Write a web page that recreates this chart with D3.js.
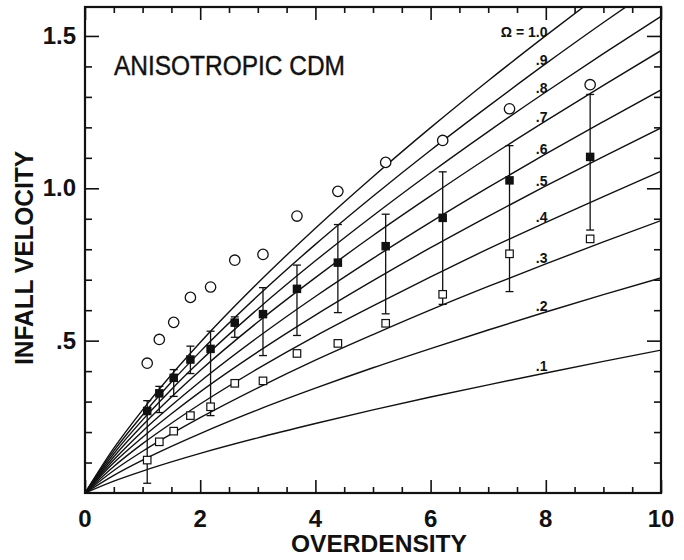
<!DOCTYPE html>
<html>
<head>
<meta charset="utf-8">
<script src="https://cdn.jsdelivr.net/npm/d3@7"></script>
<style>
  body { margin: 0; background: #fff; }
  svg { display: block; }
</style>
</head>
<body>
<svg id="chart" width="684" height="560"></svg>
<script>
// Model curves: infall velocity vs overdensity for a range of Omega
const omegas = [0.1, 0.2, 0.3, 0.4, 0.5, 0.6, 0.7, 0.8, 0.9, 1.0];
const omegaLabels = [".1", ".2", ".3", ".4", ".5", ".6", ".7", ".8", ".9", "\u03A9 = 1.0"];
const curveX = [0, 0.5, 1, 1.5, 2, 3, 4, 5, 6, 7, 8, 9, 10];
const curve01 = [0, 0.039, 0.072, 0.102, 0.130, 0.181, 0.228, 0.273, 0.315, 0.355, 0.394, 0.432, 0.469];
const curve02 = [0, 0.058, 0.108, 0.153, 0.195, 0.273, 0.344, 0.411, 0.474, 0.535, 0.594, 0.651, 0.706];
const curve03 = [0, 0.074, 0.137, 0.194, 0.247, 0.345, 0.436, 0.520, 0.601, 0.678, 0.752, 0.824, 0.894];
const curve04 = [0, 0.087, 0.162, 0.229, 0.292, 0.408, 0.515, 0.614, 0.709, 0.801, 0.888, 0.973, 1.056];
const curve05 = [0, 0.099, 0.183, 0.260, 0.332, 0.463, 0.584, 0.697, 0.805, 0.908, 1.008, 1.104, 1.198];
const curve06 = [0, 0.109, 0.203, 0.287, 0.366, 0.511, 0.645, 0.770, 0.889, 1.003, 1.113, 1.219, 1.323];
const curve07 = [0, 0.119, 0.222, 0.315, 0.402, 0.561, 0.707, 0.845, 0.975, 1.101, 1.221, 1.338, 1.452];
const curve08 = [0, 0.129, 0.240, 0.340, 0.433, 0.604, 0.762, 0.910, 1.051, 1.186, 1.316, 1.442, 1.564];
const curve09 = [0, 0.138, 0.256, 0.364, 0.464, 0.647, 0.816, 0.974, 1.125, 1.269, 1.409, 1.544, 1.675];
const curve10 = [0, 0.147, 0.273, 0.388, 0.494, 0.689, 0.869, 1.038, 1.199, 1.353, 1.501, 1.645, 1.785];
const curves = [curve01, curve02, curve03, curve04, curve05, curve06, curve07, curve08, curve09, curve10];

// Measured points at each overdensity
const obsX    = [1.08, 1.29, 1.54, 1.83, 2.18, 2.60, 3.09, 3.68, 4.39, 5.22, 6.21, 7.37, 8.77];
const circleV = [0.426, 0.504, 0.560, 0.642, 0.676, 0.764, 0.783, 0.909, 0.990, 1.085, 1.157, 1.261, 1.340];
const filledV = [0.269, 0.327, 0.378, 0.438, 0.473, 0.559, 0.587, 0.670, 0.756, 0.810, 0.903, 1.026, 1.103];
const errHi   = [0.303, 0.350, 0.405, 0.482, 0.531, 0.578, 0.674, 0.748, 0.881, 0.915, 1.054, 1.140, 1.308];
const errLo   = [0.032, 0.264, 0.317, 0.392, 0.254, 0.511, 0.451, 0.517, 0.592, 0.588, 0.619, 0.661, 0.863];
const openV   = [0.108, 0.168, 0.203, 0.254, 0.283, 0.360, 0.368, 0.458, 0.491, 0.557, 0.652, 0.785, 0.834];

// Axis ticks and labels
const xMajor = [0, 2, 4, 6, 8, 10];
const xMajorLabels = ["0", "2", "4", "6", "8", "10"];
const xMinor = d3.range(0.5, 10, 0.5).filter(v => Math.abs(v % 2) > 1e-6);
const yMajor = [0.5, 1.0, 1.5];
const yMajorLabels = [".5", "1.0", "1.5"];
const yMinor = d3.range(1, 16).map(i => i / 10).filter(v => yMajor.every(m => Math.abs(m - v) > 1e-6));

const svg = d3.select("#chart");
const FONT = "'Liberation Sans', Arial, Helvetica, sans-serif";
const pLeft = 85, pRight = 661, pTop = 7, pBottom = 493;

const x = d3.scaleLinear().domain([0, 10]).range([pLeft, pRight]);
const y = d3.scaleLinear().domain([0, 1.595]).range([pBottom, pTop]);

svg.append("defs").append("clipPath").attr("id", "plotClip")
  .append("rect").attr("x", pLeft).attr("y", pTop)
  .attr("width", pRight - pLeft).attr("height", pBottom - pTop);

// Ticks on all four sides, pointing inward
function tickAxis(axisFn, scale, values, size, transform) {
  const g = svg.append("g").attr("transform", transform)
    .call(axisFn(scale).tickValues(values).tickSize(-size).tickFormat(""));
  g.select(".domain").remove();
  g.selectAll(".tick line").attr("stroke", "#111").attr("stroke-width", 1.6);
}
tickAxis(d3.axisBottom, x, xMajor, 13, `translate(0,${pBottom})`);
tickAxis(d3.axisBottom, x, xMinor, 6, `translate(0,${pBottom})`);
tickAxis(d3.axisTop, x, xMajor, 13, `translate(0,${pTop})`);
tickAxis(d3.axisTop, x, xMinor, 6, `translate(0,${pTop})`);
tickAxis(d3.axisLeft, y, yMajor, 14, `translate(${pLeft},0)`);
tickAxis(d3.axisLeft, y, yMinor, 7, `translate(${pLeft},0)`);
tickAxis(d3.axisRight, y, yMajor, 14, `translate(${pRight},0)`);
tickAxis(d3.axisRight, y, yMinor, 7, `translate(${pRight},0)`);

// Frame
svg.append("rect").attr("x", pLeft).attr("y", pTop)
  .attr("width", pRight - pLeft).attr("height", pBottom - pTop)
  .attr("fill", "none").attr("stroke", "#111").attr("stroke-width", 2.2);

// Tick labels
svg.append("g").selectAll("text").data(xMajor).join("text")
  .attr("x", d => x(d)).attr("y", 527)
  .attr("text-anchor", "middle")
  .attr("font-family", FONT).attr("font-weight", "bold").attr("font-size", 24)
  .attr("fill", "#111")
  .text((d, i) => xMajorLabels[i]);

svg.append("g").selectAll("text").data(yMajor).join("text")
  .attr("x", 76).attr("y", d => y(d) + 8)
  .attr("text-anchor", "end")
  .attr("font-family", FONT).attr("font-weight", "bold").attr("font-size", 24)
  .attr("fill", "#111")
  .text((d, i) => yMajorLabels[i]);

// Axis titles
svg.append("text")
  .attr("x", 379).attr("y", 552)
  .attr("text-anchor", "middle")
  .attr("font-family", FONT).attr("font-weight", "bold").attr("font-size", 24)
  .attr("textLength", 176).attr("lengthAdjust", "spacingAndGlyphs")
  .attr("fill", "#111")
  .text("OVERDENSITY");

svg.append("text")
  .attr("transform", "translate(33,258) rotate(-90)")
  .attr("text-anchor", "middle")
  .attr("font-family", FONT).attr("font-weight", "bold").attr("font-size", 25)
  .attr("textLength", 214).attr("lengthAdjust", "spacingAndGlyphs")
  .attr("fill", "#111")
  .text("INFALL VELOCITY");

// Panel title
svg.append("text")
  .attr("x", 114).attr("y", 75)
  .attr("font-family", FONT).attr("font-size", 27)
  .attr("stroke", "#111").attr("stroke-width", 0.4)
  .attr("textLength", 231).attr("lengthAdjust", "spacingAndGlyphs")
  .attr("fill", "#111")
  .text("ANISOTROPIC CDM");

// Model curves
const plot = svg.append("g").attr("clip-path", "url(#plotClip)");
const line = d3.line()
  .x((d, i) => x(curveX[i]))
  .y(d => y(d))
  .curve(d3.curveMonotoneX);

plot.selectAll("path.model").data(curves).join("path")
  .attr("class", "model")
  .attr("d", line)
  .attr("fill", "none").attr("stroke", "#111").attr("stroke-width", 1.4);

// Curve labels sit just above each curve
const labelAt = 7.9;
svg.append("g").selectAll("text").data(curves).join("text")
  .attr("x", x(8.03))
  .attr("y", d => y(d3.scaleLinear().domain(curveX).range(d)(labelAt)) - 3)
  .attr("text-anchor", "end")
  .attr("font-family", FONT).attr("font-weight", "bold").attr("font-size", 14)
  .attr("fill", "#111")
  .text((d, i) => omegaLabels[i]);

// Error bars
const capW = 4;
const bars = svg.append("g").attr("stroke", "#111").attr("stroke-width", 1.3);
obsX.forEach((d, i) => {
  bars.append("line").attr("x1", x(d)).attr("x2", x(d)).attr("y1", y(errLo[i])).attr("y2", y(errHi[i]));
  bars.append("line").attr("x1", x(d) - capW).attr("x2", x(d) + capW).attr("y1", y(errLo[i])).attr("y2", y(errLo[i]));
  bars.append("line").attr("x1", x(d) - capW).attr("x2", x(d) + capW).attr("y1", y(errHi[i])).attr("y2", y(errHi[i]));
});

// Open squares
const os = 7.5;
svg.append("g").selectAll("rect").data(obsX).join("rect")
  .attr("x", d => x(d) - os / 2).attr("y", (d, i) => y(openV[i]) - os / 2)
  .attr("width", os).attr("height", os)
  .attr("fill", "#fff").attr("stroke", "#111").attr("stroke-width", 1.2);

// Filled squares
const fs = 8.5;
svg.append("g").selectAll("rect").data(obsX).join("rect")
  .attr("x", d => x(d) - fs / 2).attr("y", (d, i) => y(filledV[i]) - fs / 2)
  .attr("width", fs).attr("height", fs)
  .attr("fill", "#111");

// Open circles
svg.append("g").selectAll("circle").data(obsX).join("circle")
  .attr("cx", d => x(d)).attr("cy", (d, i) => y(circleV[i]))
  .attr("r", 5.2)
  .attr("fill", "#fff").attr("stroke", "#111").attr("stroke-width", 1.3);
</script>
</body>
</html>
